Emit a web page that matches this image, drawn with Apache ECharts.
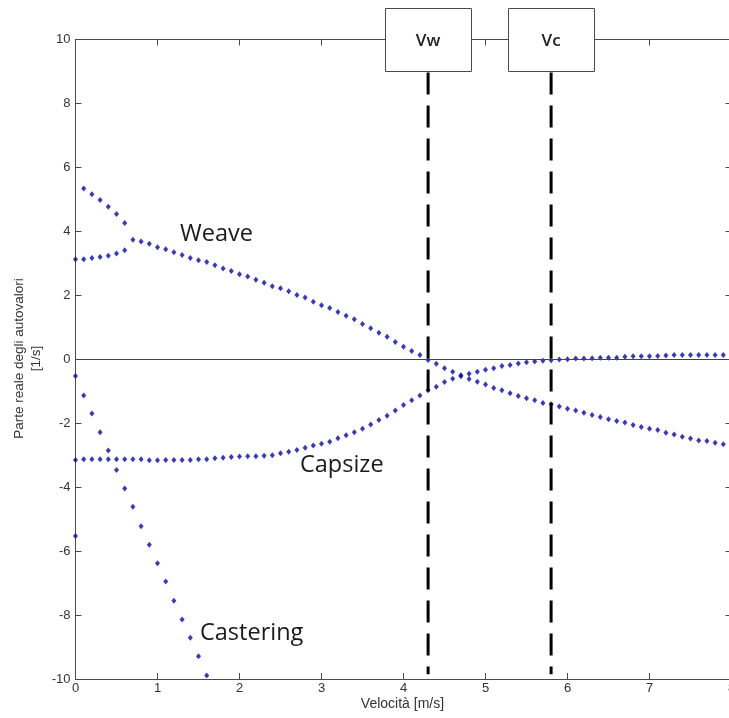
<!DOCTYPE html>
<html>
<head>
<meta charset="utf-8">
<script src="https://cdn.jsdelivr.net/npm/echarts@6/dist/echarts.min.js"></script>
<style>
  html, body { margin: 0; padding: 0; background: #fff; }
  #chart { width: 729px; height: 718px; }
</style>
</head>
<body>
<div id="chart"></div>
<script>
// Speeds [m/s] at which the eigenvalues were computed
const speeds = [
  0.0, 0.1, 0.2, 0.3, 0.4, 0.5, 0.6, 0.7, 0.8, 0.9,
  1.0, 1.1, 1.2, 1.3, 1.4, 1.5, 1.6, 1.7, 1.8, 1.9,
  2.0, 2.1, 2.2, 2.3, 2.4, 2.5, 2.6, 2.7, 2.8, 2.9,
  3.0, 3.1, 3.2, 3.3, 3.4, 3.5, 3.6, 3.7, 3.8, 3.9,
  4.0, 4.1, 4.2, 4.3, 4.4, 4.5, 4.6, 4.7, 4.8, 4.9,
  5.0, 5.1, 5.2, 5.3, 5.4, 5.5, 5.6, 5.7, 5.8, 5.9,
  6.0, 6.1, 6.2, 6.3, 6.4, 6.5, 6.6, 6.7, 6.8, 6.9,
  7.0, 7.1, 7.2, 7.3, 7.4, 7.5, 7.6, 7.7, 7.8, 7.9
];

// Real eigenvalues below the weave merge point (speeds 0.0 - 0.6)
const weaveRealLow  = [3.13, 3.13, 3.17, 3.20, 3.24, 3.31, 3.41];
const weaveRealHigh = [null, 5.34, 5.16, 4.98, 4.77, 4.54, 4.26];

// Weave mode real part (speeds 0.7 - 7.9)
const weave = [
  3.74, 3.68, 3.61,
  3.50, 3.44, 3.35, 3.26, 3.17, 3.10, 3.04, 2.94, 2.84, 2.76,
  2.66, 2.59, 2.49, 2.39, 2.28, 2.22, 2.13, 2.01, 1.93, 1.80,
  1.69, 1.60, 1.48, 1.36, 1.25, 1.10, 0.97, 0.83, 0.70, 0.54,
  0.39, 0.26, 0.13, -0.02, -0.14, -0.28, -0.39, -0.50, -0.62, -0.70,
  -0.79, -0.90, -0.97, -1.06, -1.15, -1.22, -1.28, -1.37, -1.41, -1.48,
  -1.55, -1.60, -1.67, -1.74, -1.81, -1.88, -1.93, -1.98, -2.06, -2.12,
  -2.17, -2.21, -2.30, -2.35, -2.42, -2.48, -2.54, -2.56, -2.61, -2.66
];

// Capsize mode (speeds 0.0 - 7.9)
const capsize = [
  -3.15, -3.13, -3.13, -3.13, -3.13, -3.13, -3.13, -3.13, -3.13, -3.16,
  -3.16, -3.15, -3.15, -3.15, -3.15, -3.13, -3.13, -3.10, -3.08, -3.06,
  -3.04, -3.03, -3.03, -3.02, -3.00, -2.94, -2.89, -2.84, -2.77, -2.70,
  -2.64, -2.58, -2.47, -2.38, -2.28, -2.17, -2.04, -1.90, -1.77, -1.60,
  -1.43, -1.28, -1.13, -0.97, -0.86, -0.71, -0.61, -0.53, -0.45, -0.39,
  -0.33, -0.28, -0.21, -0.18, -0.13, -0.09, -0.07, -0.05, -0.03, -0.01,
  0.00, 0.02, 0.02, 0.03, 0.05, 0.05, 0.05, 0.08, 0.09, 0.09,
  0.09, 0.10, 0.12, 0.13, 0.13, 0.13, 0.13, 0.13, 0.13, 0.13
];

// Castering mode (speeds 0.0 - 1.6)
const castering = [
  -0.52, -1.13, -1.70, -2.28, -2.85, -3.46, -4.04, -4.61, -5.22, -5.80,
  -6.38, -6.95, -7.55, -8.14, -8.71, -9.29, -9.89
];

// Isolated eigenvalue at standstill
const standstill = [[0.0, -5.53]];

// Critical speeds
const vWeave = 4.3;
const vCapsize = 5.8;
const critLabels = ['Vw', 'Vc'];

const xTicks = [0, 1, 2, 3, 4, 5, 6, 7, 8];
const yTicks = [-10, -8, -6, -4, -2, 0, 2, 4, 6, 8, 10];

function pairs(vals, offset) {
  const out = [];
  vals.forEach((v, i) => { if (v !== null) out.push([speeds[offset + i], v]); });
  return out;
}

const dotColor = '#0606b0';
const axisColor = '#4a4a4a';
const tickFont = { color: '#333', fontSize: 13, fontFamily: 'Liberation Sans, Arial, sans-serif' };

function dots(name, data) {
  return {
    name, type: 'scatter', data,
    symbol: 'diamond', symbolSize: [5, 6],
    itemStyle: { color: dotColor },
    silent: true, z: 3
  };
}

function critLine(v) {
  return {
    type: 'line', data: [[v, 8.97], [v, -9.85]],
    showSymbol: false, symbol: 'none', silent: true, z: 4,
    lineStyle: { color: '#000', width: 3, type: [22, 11] }
  };
}

const chart = echarts.init(document.getElementById('chart'), null, { renderer: 'canvas' });

const baseAxis = {
  type: 'value',
  axisLine: { show: true, onZero: false, lineStyle: { color: axisColor, width: 1 } },
  axisTick: { show: true, inside: true, length: 6, lineStyle: { color: axisColor } },
  splitLine: { show: false }
};

chart.setOption({
  animation: false,
  backgroundColor: '#fff',
  grid: {
    left: 75.5, top: 39.5, width: 656, height: 639.5,
    containLabel: false, outerBoundsMode: 'none'
  },
  xAxis: [
    Object.assign({}, baseAxis, {
      position: 'bottom', min: xTicks[0], max: xTicks[xTicks.length - 1], interval: 1,
      axisLabel: Object.assign({ margin: 3 }, tickFont)
    }),
    Object.assign({}, baseAxis, {
      position: 'top', min: xTicks[0], max: xTicks[xTicks.length - 1], interval: 1,
      axisLabel: { show: false }
    })
  ],
  yAxis: [
    Object.assign({}, baseAxis, {
      position: 'left', min: yTicks[0], max: yTicks[yTicks.length - 1], interval: 2,
      axisLabel: Object.assign({ margin: 5 }, tickFont)
    }),
    Object.assign({}, baseAxis, {
      position: 'right', min: yTicks[0], max: yTicks[yTicks.length - 1], interval: 2,
      axisLabel: { show: false }
    })
  ],
  series: [
    {
      type: 'line', data: [], silent: true,
      markLine: {
        silent: true, symbol: 'none', label: { show: false },
        lineStyle: { color: '#444', width: 1, type: 'solid' },
        data: [{ yAxis: 0 }]
      }
    },
    critLine(vWeave),
    critLine(vCapsize),
    dots('weaveLow', pairs(weaveRealLow, 0)),
    dots('weaveHigh', pairs(weaveRealHigh, 0)),
    dots('weave', pairs(weave, 7)),
    dots('capsize', pairs(capsize, 0)),
    dots('castering', pairs(castering, 0)),
    dots('standstill', standstill)
  ]
});

// Boxes with critical speed labels, centred on the dashed lines
const boxW = 86, boxH = 63, boxTop = 8.5;
const graphics = [];
[vWeave, vCapsize].forEach((v, i) => {
  const cx = chart.convertToPixel({ xAxisIndex: 0 }, v);
  graphics.push({
    type: 'rect', z: 10,
    shape: { x: Math.round(cx - boxW / 2) + 0.5, y: boxTop, width: boxW, height: boxH },
    style: { fill: '#fff', stroke: '#4a4a4a', lineWidth: 1 }
  });
  graphics.push({
    type: 'text', z: 11, x: cx, y: 41,
    style: {
      text: critLabels[i], fill: '#222', fontSize: 17, fontWeight: 600,
      fontFamily: 'Open Sans, sans-serif', align: 'center', verticalAlign: 'middle'
    }
  });
});

// Mode names
const modeFont = { fill: '#1a1a1a', fontSize: 23.5, fontFamily: 'Open Sans, sans-serif', verticalAlign: 'top' };
graphics.push({ type: 'text', z: 11, x: 180, y: 222, style: Object.assign({ text: 'Weave' }, modeFont) });
graphics.push({ type: 'text', z: 11, x: 300, y: 453, style: Object.assign({ text: 'Capsize' }, modeFont) });
graphics.push({ type: 'text', z: 11, x: 200, y: 621, style: Object.assign({ text: 'Castering' }, modeFont) });

// Axis titles
graphics.push({
  type: 'text', z: 11, x: 402.5, y: 704.5,
  style: { text: 'Velocità [m/s]', fill: '#333', fontSize: 14, fontFamily: 'Liberation Sans, Arial, sans-serif', align: 'center', verticalAlign: 'middle' }
});
graphics.push({
  type: 'text', z: 11, x: 27.5, y: 358.5, rotation: Math.PI / 2,
  style: {
    text: 'Parte reale degli autovalori\n[1/s]', fill: '#333', fontSize: 13.5, lineHeight: 17,
    fontFamily: 'Liberation Sans, Arial, sans-serif', align: 'center', verticalAlign: 'middle'
  }
});

chart.setOption({ graphic: graphics });
</script>
</body>
</html>
